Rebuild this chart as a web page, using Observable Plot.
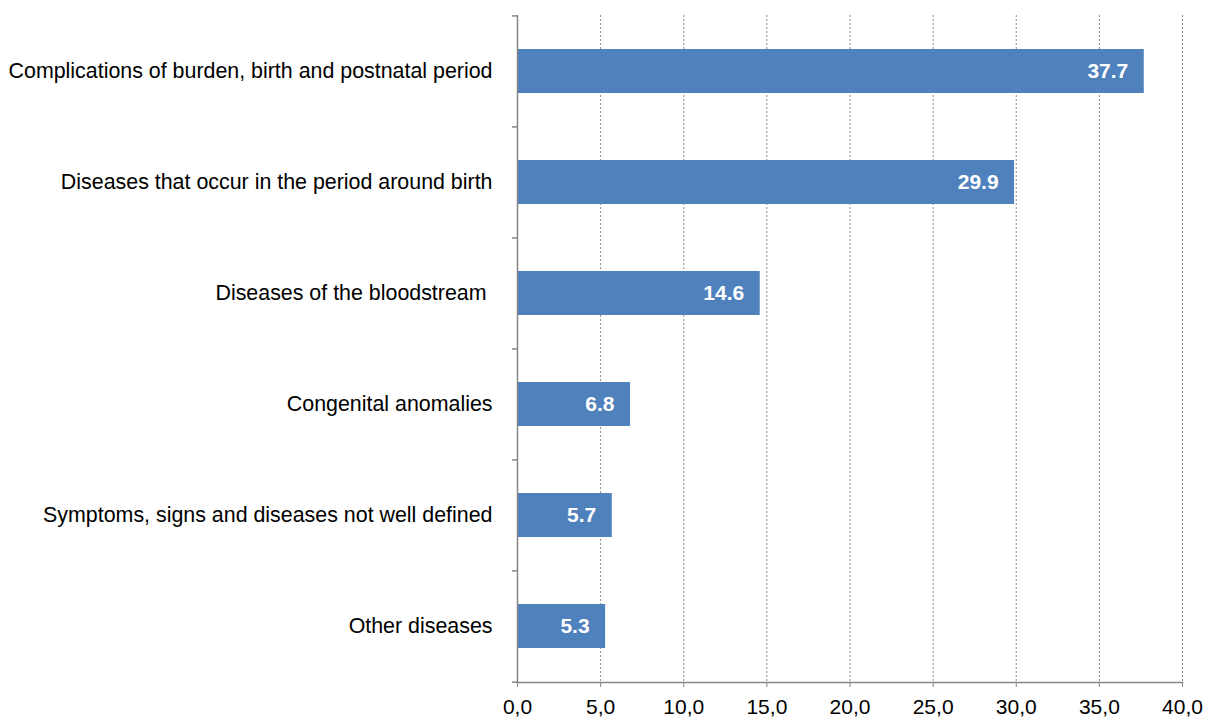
<!DOCTYPE html>
<html>
<head>
<meta charset="utf-8">
<script src="https://cdn.jsdelivr.net/npm/d3@7"></script>
<script src="https://cdn.jsdelivr.net/npm/@observablehq/plot@0.6"></script>
<style>
  html, body { margin: 0; padding: 0; background: #fff; }
  #chart { width: 1206px; height: 717px; }
  svg { font-family: "Liberation Sans", Arial, sans-serif; }
</style>
</head>
<body>
<div id="chart"></div>
<script>
const categories = [
  "Complications of burden, birth and postnatal period",
  "Diseases that occur in the period around birth",
  "Diseases of the bloodstream ",
  "Congenital anomalies",
  "Symptoms, signs and diseases not well defined",
  "Other diseases"
];
const values = [37.7, 29.9, 14.6, 6.8, 5.7, 5.3];
const xTicks = [0, 5, 10, 15, 20, 25, 30, 35, 40];

const data = categories.map((c, i) => ({category: c, value: values[i]}));

const W = 1206, H = 717;
const mTop = 15, mBottom = 35, mLeft = 517, mRight = 24;
const pInner = 0.6, pOuter = 0.3;
const step = (H - mTop - mBottom) / (categories.length - pInner + 2 * pOuter);
const axisColor = "#868686";
const FS = 21;
const FS_CAT = 21.4;

const chart = Plot.plot({
  width: W,
  height: H,
  marginTop: mTop,
  marginBottom: mBottom,
  marginLeft: mLeft,
  marginRight: mRight,
  style: {fontFamily: "'Liberation Sans', Arial, sans-serif", fontSize: FS + "px", color: "#000", background: "#fff", overflow: "visible"},
  x: {domain: [0, 40], ticks: xTicks},
  y: {domain: categories, paddingInner: pInner, paddingOuter: pOuter},
  marks: [
    Plot.gridX(xTicks.filter(d => d > 0), {stroke: "#8c8c8c", strokeOpacity: 1, strokeDasharray: "2,2"}),
    Plot.barX(data, {x: "value", y: "category", fill: "#4F81BD"}),
    Plot.text(data, {x: "value", y: "category", text: d => d.value.toFixed(1), textAnchor: "end", dx: -16, fill: "#fff", fontWeight: "bold", fontSize: FS}),
    Plot.ruleX([0], {stroke: axisColor, strokeWidth: 1.5}),
    Plot.frame({anchor: "bottom", stroke: axisColor, strokeWidth: 1.5}),
    Plot.axisX({ticks: xTicks, tickSize: 5, tickPadding: 12, stroke: axisColor, tickFormat: d => d.toFixed(1).replace(".", ","), fontSize: FS, fill: "#000", label: null}),
    Plot.axisY({tickSize: 0, tickPadding: 25, fontSize: FS_CAT, fill: "#000", label: null}),
    Plot.axisY({tickSize: 5, text: null, stroke: axisColor, strokeWidth: 1.5, dy: -step / 2, label: null}),
    Plot.axisY(categories.slice(-1), {tickSize: 5, text: null, stroke: axisColor, strokeWidth: 1.5, dy: step / 2, label: null})
  ]
});

document.getElementById("chart").appendChild(chart);
</script>
</body>
</html>
